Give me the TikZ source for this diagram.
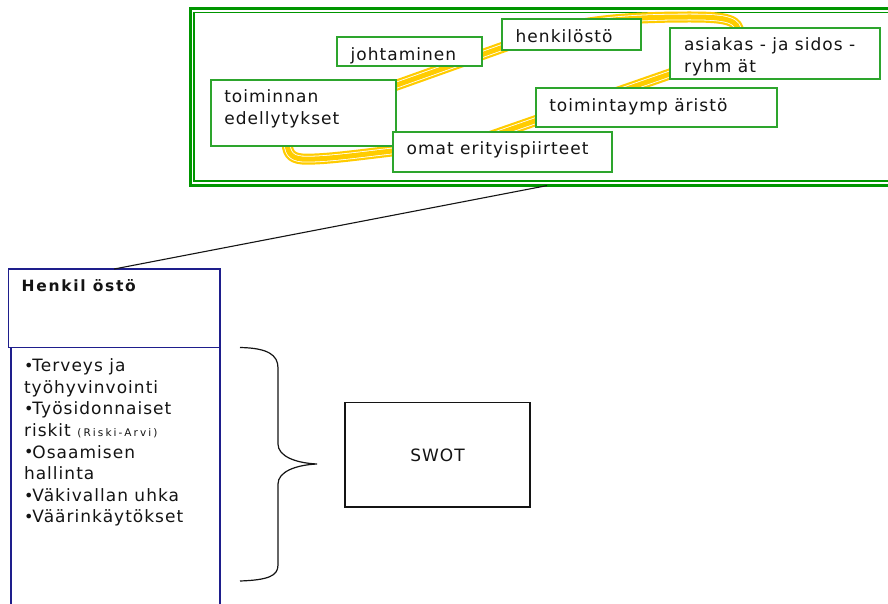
\documentclass[tikz,border=0pt]{standalone}
\usepackage{fontspec}
\setmainfont{DejaVu Sans}[LetterSpace=6]
\usetikzlibrary{calc}

\definecolor{framegreen}{RGB}{0,150,0}
\definecolor{boxgreen}{RGB}{45,165,45}
\definecolor{bandyellow}{RGB}{255,204,0}
\definecolor{navy}{RGB}{30,30,140}
\definecolor{ink}{RGB}{20,20,20}

\newcommand{\lines}[1]{\begin{tabular}[t]{@{}l@{}}#1\end{tabular}}
\newcommand{\bul}{{\fontsize{16}{16}\selectfont\raisebox{0.3pt}{\textbullet}}\kern-1pt}

\tikzset{
  greenbox/.style={rectangle, draw=boxgreen, line width=1.7pt, fill=white,
    inner sep=0pt, outer sep=0pt, anchor=north west},
  framebox/.style={rectangle, draw=framegreen, inner sep=0pt, outer sep=0pt,
    anchor=north west},
  bluebox/.style={rectangle, draw=navy, line width=1.6pt, fill=white,
    inner sep=0pt, outer sep=0pt, anchor=north west},
  txt/.style={inner sep=0pt, outer sep=0pt, anchor=base west, text=ink,
    font=\fontsize{17}{21.6}\selectfont},
  band/.style={draw=bandyellow, line width=11pt, line join=round,
    postaction={draw=white, line width=6.6pt},
    postaction={draw=bandyellow, line width=5pt}},
  thinline/.style={draw=ink, line width=1.1pt},
}

\begin{document}
\begin{tikzpicture}[x=1pt, y=-1pt]
\clip (0,0) rectangle (888,604);
\fill[white] (0,0) rectangle (888,604);

% double green frame around the map of factors
\node[framebox, line width=3pt, minimum width=714pt, minimum height=177pt]
  (frame) at (190,8.6) {};
\node[framebox, line width=1.5pt, minimum width=708pt, minimum height=168.5pt]
  (frameinner) at (194.2,12.6) {};

% yellow ribbon linking the factors
\draw[band] (380,91) -- (540,34)
  .. controls (580,22) and (620,17) .. (690,17)
  .. controls (728,17) and (739,20) .. (739,34)
  .. controls (739,50) and (720,58) .. (690,67)
  -- (480,140)
  .. controls (450,149) and (420,148) .. (392,151)
  .. controls (350,156) and (320,160) .. (302,159)
  .. controls (290,158) and (287,152) .. (287,140) -- cycle;

% factor boxes
\node[greenbox, minimum width=145.3pt, minimum height=28.4pt] (joht) at (336.7,37.3) {};
\node[greenbox, minimum width=139pt, minimum height=30.7pt] (henkb) at (501.7,19.3) {};
\node[greenbox, minimum width=210pt, minimum height=51.6pt] (asiak) at (670,27.7) {};
\node[greenbox, minimum width=185pt, minimum height=66pt] (toim) at (211,79.7) {};
\node[greenbox, minimum width=241pt, minimum height=38.7pt] (ymp) at (536,88) {};
\node[greenbox, minimum width=219.6pt, minimum height=40pt] (omat) at (392.7,131.7) {};

\node[txt] (tjoht) at ($(joht.north west)+(14,23.5)$) {johtaminen};
\node[txt] (thenk) at ($(henkb.north west)+(14,23)$) {henkil\"ost\"o};
\node[txt] (tasiak) at ($(asiak.north west)+(14,23.3)$) {\lines{asiakas - ja sidos -\\ryhm \"at}};
\node[txt] (ttoim) at ($(toim.north west)+(13.3,23)$) {\lines{toiminnan\\edellytykset}};
\node[txt] (tymp) at ($(ymp.north west)+(13.3,23.7)$) {toimintaymp \"arist\"o};
\node[txt] (tomat) at ($(omat.north west)+(14,22.5)$) {omat erityispiirteet};

% personnel box and its list
\node[bluebox, minimum width=211.6pt, minimum height=78.3pt] (henk) at (8.4,269) {};
\node[bluebox, minimum width=209.3pt, minimum height=280pt] (list) at (10.7,347.3) {};
\node[txt, font=\fontsize{15.5}{18}\selectfont\bfseries\addfontfeatures{LetterSpace=11}]
  (thead) at (21.7,291.7) {Henkil \"ost\"o};
\node[txt] (tlist) at (24,371.7) {\lines{%
  \bul Terveys ja\\
  ty\"ohyvinvointi\\
  \bul Ty\"osidonnaiset\\
  riskit {\fontsize{10.5}{12}\selectfont\addfontfeatures{LetterSpace=20}(Riski-Arvi)}\\
  \bul Osaamisen\\
  hallinta\\
  \bul V\"akivallan uhka\\
  \bul V\"a\"arink\"ayt\"okset}};

% SWOT box
\node[rectangle, draw=ink, line width=1.2pt, inner sep=0pt, outer sep=0pt,
  anchor=north west, minimum width=185pt, minimum height=104.3pt, text=ink,
  font=\fontsize{17}{21.6}\selectfont] (swot) at (345,402.7) {SWOT};

% connector from the frame to the personnel box
\draw[thinline] (frame.south) -- (henk.north);

% brace gathering the list towards SWOT
\draw[thinline, line width=1.2pt] (240,347.5)
  .. controls (268,348) and (278,355) .. (278,368) -- (278,444)
  .. controls (278,456) and (295,463) .. (317,464)
  .. controls (295,465) and (278,472) .. (278,484) -- (278,565)
  .. controls (278,576) and (268,580) .. (240,581);
\end{tikzpicture}
\end{document}
